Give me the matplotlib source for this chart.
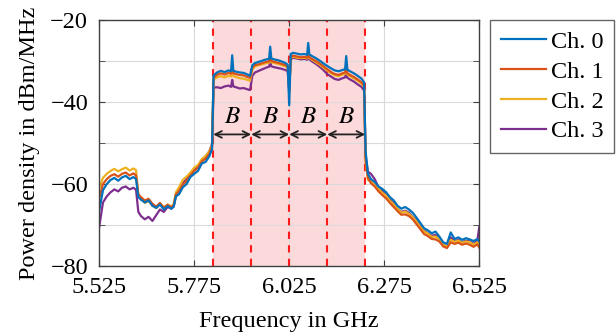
import matplotlib
matplotlib.use("Agg")
import matplotlib.pyplot as plt
import numpy as np

plt.rcParams['font.family'] = ['Liberation Serif', 'DejaVu Serif']
plt.rcParams['mathtext.fontset'] = 'stix'

freq = [
    5.525, 5.535, 5.545, 5.555, 5.565, 5.575, 5.585, 5.595, 5.605, 5.615,
    5.622, 5.628, 5.635, 5.645, 5.655, 5.665, 5.675, 5.685, 5.695, 5.705,
    5.715, 5.721, 5.727, 5.735, 5.745, 5.755, 5.765, 5.775, 5.785, 5.795,
    5.805, 5.815, 5.822, 5.826,
    5.835, 5.845, 5.855, 5.865, 5.872, 5.875, 5.878, 5.885, 5.895, 5.905,
    5.915, 5.922, 5.928,
    5.935, 5.945, 5.955, 5.965, 5.972, 5.975, 5.978, 5.985, 5.995, 6.005,
    6.015, 6.021, 6.025, 6.029,
    6.035, 6.045, 6.055, 6.065, 6.072, 6.075, 6.078, 6.085, 6.095, 6.105,
    6.115, 6.125,
    6.135, 6.145, 6.155, 6.165, 6.172, 6.175, 6.178, 6.185, 6.195, 6.205,
    6.215, 6.222, 6.226, 6.232,
    6.240, 6.250, 6.260, 6.270, 6.280, 6.290, 6.300, 6.310, 6.320, 6.330,
    6.340, 6.350, 6.360, 6.370, 6.380, 6.390, 6.400, 6.410, 6.420, 6.430,
    6.440, 6.450, 6.460, 6.470, 6.480, 6.490, 6.500, 6.510, 6.520, 6.525,
]

ch0 = [
    -66.5, -61.5, -60.0, -59.0, -58.5, -59.2, -58.4, -58.0, -58.8, -58.3,
    -58.8, -63.2, -63.8, -64.5, -64.0, -65.3, -65.8, -65.0, -66.2, -65.4,
    -66.0, -65.5, -63.0, -62.5, -60.8, -60.0, -58.3, -57.5, -56.8, -55.0,
    -54.6, -53.2, -51.5, -33.5,
    -32.8, -32.4, -32.7, -32.3, -32.5, -28.6, -32.4, -32.6, -32.8, -32.9,
    -33.3, -33.6, -31.0,
    -30.5, -30.2, -29.9, -29.6, -29.5, -26.5, -29.4, -29.6, -29.8, -30.1,
    -30.5, -30.9, -40.8, -28.3,
    -28.0, -28.2, -28.4, -28.3, -28.5, -25.6, -28.4, -28.8, -29.3, -29.9,
    -30.6, -31.2,
    -31.8, -32.3, -32.5, -32.2, -32.0, -28.8, -32.1, -32.5, -33.0, -33.6,
    -34.3, -35.2, -52.0, -57.5,
    -58.8, -59.5, -60.6, -61.2, -62.0, -63.2, -64.0, -65.3, -66.0, -65.6,
    -66.2, -67.0, -68.2, -69.5, -70.8, -71.3, -72.0, -71.6, -72.8, -74.2,
    -74.6, -71.8, -73.4, -73.0, -73.6, -73.2, -73.5, -73.9, -73.4, -74.0,
]

ch1 = [
    -63.5, -60.0, -58.8, -58.0, -57.6, -58.2, -57.5, -57.2, -57.9, -57.4,
    -57.9, -62.5, -63.2, -64.0, -63.6, -64.8, -65.5, -64.6, -65.8, -65.0,
    -65.7, -65.2, -62.5, -61.8, -60.2, -59.2, -57.9, -56.8, -56.0, -54.5,
    -53.8, -52.6, -50.8, -34.0,
    -33.4, -33.0, -33.3, -32.9, -33.1, -31.5, -33.0, -33.2, -33.4, -33.5,
    -33.9, -34.1, -31.6,
    -31.0, -30.8, -30.5, -30.2, -30.1, -28.6, -30.0, -30.2, -30.4, -30.7,
    -31.0, -31.4, -37.5, -28.9,
    -28.7, -28.9, -29.1, -29.0, -29.2, -27.8, -29.1, -29.5, -30.0, -30.6,
    -31.3, -32.0,
    -32.7, -33.2, -33.4, -33.0, -32.8, -31.2, -33.0, -33.4, -33.9, -34.5,
    -35.2, -36.0, -54.0, -58.5,
    -59.8, -60.6, -61.8, -62.7, -63.5, -64.6, -65.6, -66.6, -67.5, -67.4,
    -67.8, -68.6, -69.8, -71.0, -72.2, -72.7, -73.4, -73.5, -74.0, -75.2,
    -75.6, -74.2, -74.6, -74.3, -74.8, -74.5, -74.8, -75.3, -74.7, -75.5,
]

ch2 = [
    -61.0, -58.5, -57.5, -56.8, -56.3, -56.9, -56.4, -56.0, -56.7, -56.2,
    -56.6, -62.8, -63.5, -64.6, -64.2, -65.2, -65.9, -64.8, -65.6, -65.2,
    -65.4, -64.9, -62.0, -60.8, -59.0, -58.2, -57.2, -56.0, -55.4, -53.9,
    -53.2, -52.0, -50.5, -34.5,
    -34.0, -33.7, -34.0, -33.6, -33.8, -32.3, -33.7, -33.9, -34.2, -34.3,
    -34.6, -34.8, -32.0,
    -31.3, -31.0, -30.8, -30.5, -30.4, -29.2, -30.3, -30.5, -30.7, -31.0,
    -31.3, -31.6, -36.5, -29.3,
    -28.9, -29.2, -29.3, -29.2, -29.4, -28.2, -29.3, -29.7, -30.3, -30.9,
    -31.6, -32.3,
    -33.0, -33.5, -33.7, -33.3, -33.1, -31.8, -33.3, -33.7, -34.2, -34.8,
    -35.5, -36.3, -54.5, -59.0,
    -59.3, -60.2, -61.2, -62.2, -62.8, -64.1, -65.0, -66.0, -67.0, -66.7,
    -67.3, -68.1, -69.2, -70.5, -71.6, -72.1, -72.9, -72.8, -73.5, -74.8,
    -75.2, -73.6, -74.1, -73.8, -74.3, -74.0, -74.2, -74.8, -74.2, -74.9,
]

ch3 = [
    -70.5, -64.5, -63.0, -62.0, -61.3, -61.8, -60.9, -60.6, -61.3, -60.9,
    -61.4, -66.8, -67.8, -68.6, -68.0, -69.0, -67.6, -66.2, -66.8, -65.6,
    -66.0, -65.5, -62.8, -61.5, -59.8, -58.8, -57.5, -56.5, -55.8, -54.2,
    -53.3, -52.0, -50.2, -36.5,
    -36.4, -36.6, -36.2, -36.0, -36.3, -34.6, -36.2, -36.4, -36.7, -36.6,
    -36.9, -37.1, -33.6,
    -32.8, -32.4, -32.0, -31.6, -31.4, -30.2, -31.3, -31.5, -31.7, -31.9,
    -32.2, -32.5, -37.0, -29.6,
    -29.2, -29.4, -29.6, -29.5, -29.7, -28.5, -29.6, -30.1, -30.7, -31.4,
    -32.2, -33.2,
    -33.8, -34.4, -34.6, -34.2, -34.0, -32.6, -34.1, -34.5, -35.0, -35.7,
    -36.3, -37.2, -53.0, -57.0,
    -57.5, -58.8, -60.8, -61.8, -62.6, -63.8, -64.8, -66.0, -66.8, -66.5,
    -67.0, -68.0, -69.0, -70.3, -71.4, -72.0, -72.6, -72.4, -73.2, -74.6,
    -75.4, -73.0, -74.0, -73.6, -74.2, -73.8, -74.0, -74.6, -73.8, -70.5,
]

labels = ['Ch. 0', 'Ch. 1', 'Ch. 2', 'Ch. 3']
colors = ['#0072BD', '#D95319', '#EDB120', '#7E2F8E']
channel_edges = [5.825, 5.925, 6.025, 6.125, 6.225]
xticks = [5.525, 5.775, 6.025, 6.275, 6.525]
yticks = [-20, -40, -60, -80]

fig = plt.figure(figsize=(6.16, 3.33), dpi=100)
ax = fig.add_axes([0.161, 0.201, 0.617, 0.739])

ax.axvspan(channel_edges[0], channel_edges[-1], color='#fcd9da', lw=0, zorder=0)
for e in channel_edges:
    ax.axvline(e, color='#ff1a1a', ls=(0, (3.5, 3)), lw=1.5, zorder=3)

series = [ch0, ch1, ch2, ch3]
lines = []
for i, (s, c, l) in enumerate(zip(series, colors, labels)):
    ln, = ax.plot(freq, s, color=c, lw=1.6, label=l, zorder=6 - i)
    lines.append(ln)

arrow_y = -47.9
for a, b in zip(channel_edges[:-1], channel_edges[1:]):
    ax.annotate('', xy=(a, arrow_y), xytext=(b, arrow_y),
                arrowprops=dict(arrowstyle='<->', color='#222222', lw=1.3,
                                shrinkA=0, shrinkB=0, mutation_scale=12),
                zorder=8)
    ax.text((a + b) / 2, -43.6, '$B$', ha='center', va='center',
            fontsize=18, zorder=8)

ax.set_xlim(5.525, 6.525)
ax.set_ylim(-80, -20)
ax.set_xticks(xticks)
ax.set_xticklabels([f'{t:.3f}' for t in xticks])
ax.set_yticks(yticks)
ax.set_yticklabels([f'\u2212{abs(t)}' for t in yticks])
ax.set_yticks([-30, -50, -70], minor=True)
ax.grid(True, which='major', color='#dadada', lw=0.8, zorder=1)
ax.grid(True, which='minor', axis='y', color='#dadada', lw=0.8, zorder=1)
for gl in ax.get_xgridlines() + ax.get_ygridlines():
    gl.set_zorder(1)
ax.tick_params(which='both', direction='in', top=True, right=True,
               labelsize=17.5, color='#404040', length=4)
ax.tick_params(axis='x', which='both', pad=8)
ax.tick_params(axis='y', which='both', pad=8)
for sp in ax.spines.values():
    sp.set_color('#404040')
    sp.set_linewidth(1.0)
    sp.set_zorder(10)

ax.set_xlabel('Frequency in GHz', fontsize=17.5, labelpad=9)
ax.set_ylabel('Power density in dBm/MHz', fontsize=17.5, labelpad=7)

leg = fig.legend(handles=lines, labels=labels, loc='upper left',
                 bbox_to_anchor=(490 / 616, 1 - 20 / 333),
                 fontsize=17.5, frameon=True, fancybox=False,
                 edgecolor='#404040', handlelength=1.85, handletextpad=0.2,
                 labelspacing=0.32, borderpad=0.45, borderaxespad=0)
leg.get_frame().set_linewidth(1.0)

fig.savefig('out.png', dpi=100)
